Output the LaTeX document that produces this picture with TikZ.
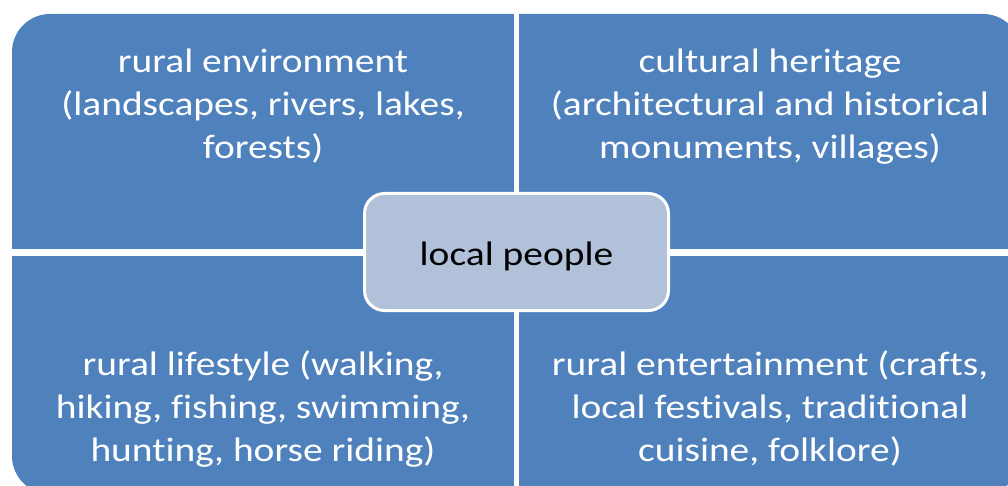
\documentclass[tikz,border=0pt]{standalone}
\usepackage{fontspec}
\setmainfont[Ligatures=CommonOff]{Carlito}
\usetikzlibrary{positioning}
\definecolor{quadblue}{RGB}{79,129,189}
\definecolor{centreblue}{RGB}{178,193,218}
\tikzset{quadtext/.style={text=white, align=center, inner sep=0pt, font=\fontsize{34}{43}\selectfont, xscale=1.16, transform shape}}

\begin{document}
\begin{tikzpicture}[x=1pt,y=-1pt]
\useasboundingbox (0,0) rectangle (1008,486);
\clip (0,0) rectangle (1008,486);
\fill [quadblue, rounded corners=38pt] (12,14) rectangle (1021,494);
\fill [white] (514,0) rectangle (519,494);
\fill [white] (0,249) rectangle (1021,256);

\node [quadtext, anchor=north] (env) at (263,49) {rural environment\\(landscapes, rivers, lakes,\\forests)};
\node [quadtext, anchor=north] (heritage) at (770,49) {cultural heritage\\(architectural and historical\\monuments, villages)};
\node [quadtext, anchor=south] (lifestyle) at (263,468) {rural lifestyle (walking,\\hiking, fishing, swimming,\\hunting, horse riding)};
\node [quadtext, anchor=south] (entertain) at (770,466) {rural entertainment (crafts,\\local festivals, traditional\\cuisine, folklore)};

\node [draw=white, line width=3pt, fill=centreblue, rounded corners=20pt, minimum width=304pt, minimum height=117pt, text height=26pt, text depth=0pt, font=\fontsize{34}{43}\selectfont] (people) at (516.5,252) {\scalebox{1.16}[1]{local people}};
\end{tikzpicture}
\end{document}
